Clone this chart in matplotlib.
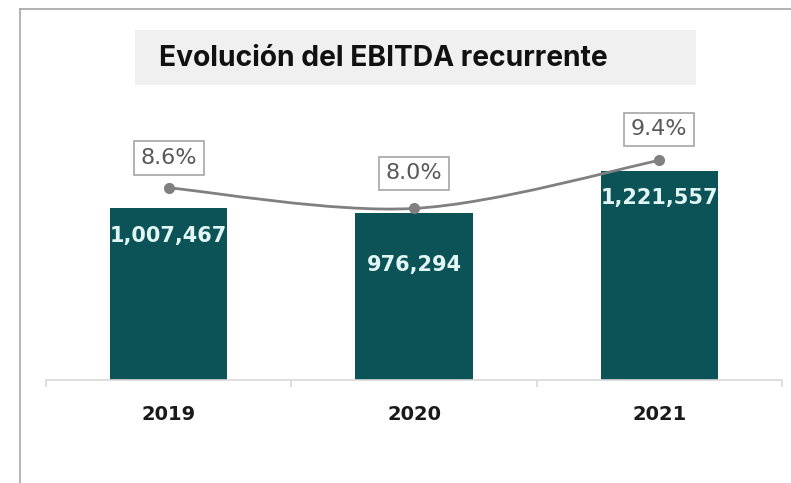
import matplotlib.pyplot as plt
import numpy as np
from matplotlib.path import Path
from matplotlib.patches import PathPatch, Rectangle
from matplotlib.lines import Line2D

# ==================== Data ====================
years = ["2019", "2020", "2021"]
ebitda = [1007467, 976294, 1221557]
margin = [8.6, 8.0, 9.4]
bar_labels = ["1,007,467", "976,294", "1,221,557"]
margin_labels = ["8.6%", "8.0%", "9.4%"]

bar_color = "#0b5356"
line_color = "#808080"

# ==================== Figure ====================
fig = plt.figure(figsize=(7.91, 4.83), dpi=100)
W, H = 791, 483

# frame lines around the figure (cropped box)
fig.add_artist(Line2D([20 / W, 1], [1 - 9 / H, 1 - 9 / H], color="#a6a6a6", lw=1.2))
fig.add_artist(Line2D([20 / W, 20 / W], [0, 1 - 9 / H], color="#a6a6a6", lw=1.2))

# title box
fig.add_artist(Rectangle((135 / W, 1 - 85 / H), 561 / W, 55 / H,
                         facecolor="#f0f0f0", edgecolor="none"))
fig.text(159 / W, 1 - 59 / H, "Evolución del EBITDA recurrente",
         fontsize=20.3, fontweight="bold", family="Inter", va="center", ha="left",
         color="#111111")

# axes: baseline at y=380px, top at y=30px
ax = fig.add_axes([46 / W, 1 - 380 / H, 736 / W, 350 / H])
x = np.arange(len(years))
ax.bar(x, ebitda, width=0.477, color=bar_color, zorder=2)
ax.set_xlim(-0.5, 2.5)
ax.set_ylim(0, 2050000)

label_offsets = [28, 52, 27]  # px below bar top
ppx = 2050000 / 350
for i, (v, lab) in enumerate(zip(ebitda, bar_labels)):
    ax.text(x[i], v - label_offsets[i] * ppx, lab, ha="center", va="center",
            fontsize=15, fontweight="bold", color="#e3f6f6", zorder=3)

for s in ["top", "right", "left"]:
    ax.spines[s].set_visible(False)
ax.spines["bottom"].set_color("#d9d9d9")
ax.spines["bottom"].set_linewidth(1.2)
ax.set_yticks([])
ax.set_xticks(x)
ax.set_xticklabels(years, fontsize=14, fontweight="bold", color="#1a1a1a")
ax.tick_params(axis="x", length=0, pad=18)
ax.set_xticks([-0.5, 0.5, 1.5, 2.5], minor=True)
ax.tick_params(axis="x", which="minor", length=5, color="#d9d9d9", width=1.2)

# secondary axis for margin line
ax2 = ax.twinx()
ax2.set_ylim(3.0, 13.2)
ax2.axis("off")

# smooth curve through the points (Catmull-Rom -> cubic Bezier)
pts = np.column_stack([x, margin]).astype(float)
verts = [tuple(pts[0])]
codes = [Path.MOVETO]
for i in range(len(pts) - 1):
    p0 = pts[i - 1] if i > 0 else pts[i]
    p1, p2 = pts[i], pts[i + 1]
    p3 = pts[i + 2] if i + 2 < len(pts) else pts[i + 1]
    c1 = p1 + (p2 - p0) / 6
    c2 = p2 - (p3 - p1) / 6
    verts += [tuple(c1), tuple(c2), tuple(p2)]
    codes += [Path.CURVE4] * 3
ax2.add_patch(PathPatch(Path(verts, codes), facecolor="none",
                        edgecolor=line_color, lw=2, zorder=4))
ax2.plot(x, margin, "o", color=line_color, ms=7, zorder=5)

box_offsets = [30, 35, 31]  # px above the dot
for i, (v, lab) in enumerate(zip(margin, margin_labels)):
    ax2.annotate(lab, (x[i], v), xytext=(0, box_offsets[i] * 0.72),
                 textcoords="offset points",
                 ha="center", va="center", fontsize=16, color="#595959",
                 bbox=dict(boxstyle="square,pad=0.3", fc="white",
                           ec="#a6a6a6", lw=1.2))

fig.savefig("out.png", dpi=100)
